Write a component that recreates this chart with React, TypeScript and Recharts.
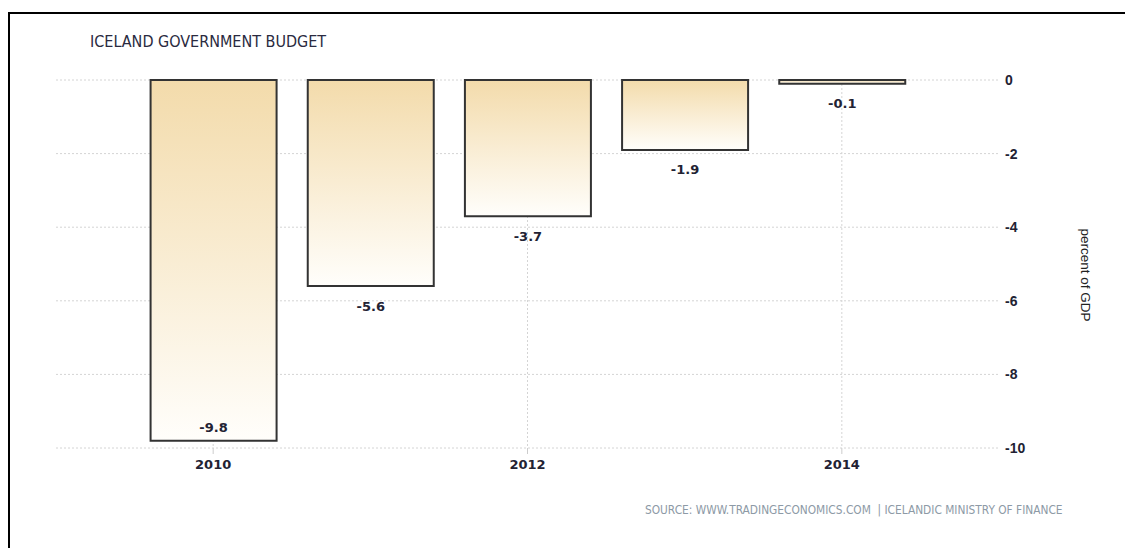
import React from 'react';
import {
  BarChart,
  Bar,
  XAxis,
  YAxis,
  CartesianGrid,
  LabelList,
} from 'recharts';

// budget balance, percent of GDP
const years = [2010, 2011, 2012, 2013, 2014];
const balance = [-9.8, -5.6, -3.7, -1.9, -0.1];
const yearTicks = [2010, 2012, 2014];
const valueTicks = [0, -2, -4, -6, -8, -10];
const xDomain: [number, number] = [2009, 2015];

const data = years.map((year, i) => ({ year, value: balance[i] }));

const W = 1125;
const H = 540;
const margin = { top: 72, right: 74, bottom: 70, left: 48 };
const xAxisHeight = 30;
const plotBottom = H - margin.bottom - xAxisHeight;

const boldFont = {
  fontFamily: '"DejaVu Sans", Verdana, sans-serif',
  fontSize: 13,
  fontWeight: 'bold' as const,
  fill: '#222233',
};

// value goes under the bar, or inside it when there is no room left below
const ValueLabel = (props: any) => {
  const { x, y, width, height, value } = props;
  const bottom = Math.max(y, y + height);
  const inside = bottom + 26 > plotBottom;
  const ty = inside ? bottom - 12 : bottom + 21;
  return (
    <text
      x={x + width / 2}
      y={ty}
      textAnchor="middle"
      dominantBaseline="middle"
      {...boldFont}
    >
      {value}
    </text>
  );
};

// vertical grid only at the labelled years
const yearGridX = ({ xAxis, offset }: any) =>
  yearTicks.map((t) =>
    xAxis && typeof xAxis.scale === 'function'
      ? xAxis.scale(t)
      : offset.left + (offset.width * (t - xDomain[0])) / (xDomain[1] - xDomain[0])
  );

const App: React.FC = () => {
  return (
    <div style={{ position: 'relative', width: W, height: H }}>
      {/* frame, only top and left edges show in the shot */}
      <div
        style={{
          position: 'absolute',
          left: 0,
          top: 4,
          right: -10,
          bottom: -10,
          borderLeft: '2px solid #000',
          borderTop: '2px solid #000',
          pointerEvents: 'none',
        }}
      />
      <div
        style={{
          position: 'absolute',
          left: 82,
          top: 24,
          fontFamily: '"DejaVu Sans Condensed", "DejaVu Sans", sans-serif',
          fontSize: 16,
          color: '#2a2a40',
          whiteSpace: 'nowrap',
        }}
      >
        ICELAND GOVERNMENT BUDGET
      </div>
      <BarChart width={W} height={H} data={data} margin={margin}>
        <defs>
          <linearGradient id="barFill" x1="0" y1="0" x2="0" y2="1">
            <stop offset="0%" stopColor="#f3dbab" />
            <stop offset="100%" stopColor="#fffefb" />
          </linearGradient>
        </defs>
        <CartesianGrid
          stroke="#d4d4d4"
          strokeDasharray="2 2"
          verticalCoordinatesGenerator={yearGridX}
        />
        <XAxis
          dataKey="year"
          type="number"
          domain={xDomain}
          ticks={yearTicks}
          axisLine={false}
          tickLine={{ stroke: '#cccccc' }}
          tickSize={6}
          tickMargin={6}
          height={xAxisHeight}
          tick={boldFont}
        />
        <YAxis
          orientation="right"
          domain={[-10, 0]}
          ticks={valueTicks}
          axisLine={false}
          tickLine={false}
          tickSize={0}
          tickMargin={6}
          width={60}
          tick={{
            fontFamily: '"Liberation Sans", Arial, sans-serif',
            fontSize: 14,
            fontWeight: 'bold',
            fill: '#222233',
            textAnchor: 'start',
          }}
          label={{
            value: 'percent of GDP',
            angle: 90,
            position: 'center',
            dx: 57,
            dy: 11,
            style: {
              fontFamily: '"Liberation Sans", Arial, sans-serif',
              fontSize: 13.5,
              fill: '#222',
            },
          }}
        />
        <Bar
          dataKey="value"
          barSize={126}
          fill="url(#barFill)"
          stroke="#333333"
          strokeWidth={2}
          isAnimationActive={false}
        >
          <LabelList dataKey="value" content={<ValueLabel />} />
        </Bar>
      </BarChart>
      <div
        style={{
          position: 'absolute',
          left: 637,
          top: 495,
          fontFamily: '"DejaVu Sans Condensed", "DejaVu Sans", sans-serif',
          fontSize: 11.8,
          color: '#8d9aa6',
          whiteSpace: 'nowrap',
        }}
      >
        SOURCE: WWW.TRADINGECONOMICS.COM &nbsp;|&nbsp;ICELANDIC MINISTRY OF FINANCE
      </div>
    </div>
  );
};

export default App;
